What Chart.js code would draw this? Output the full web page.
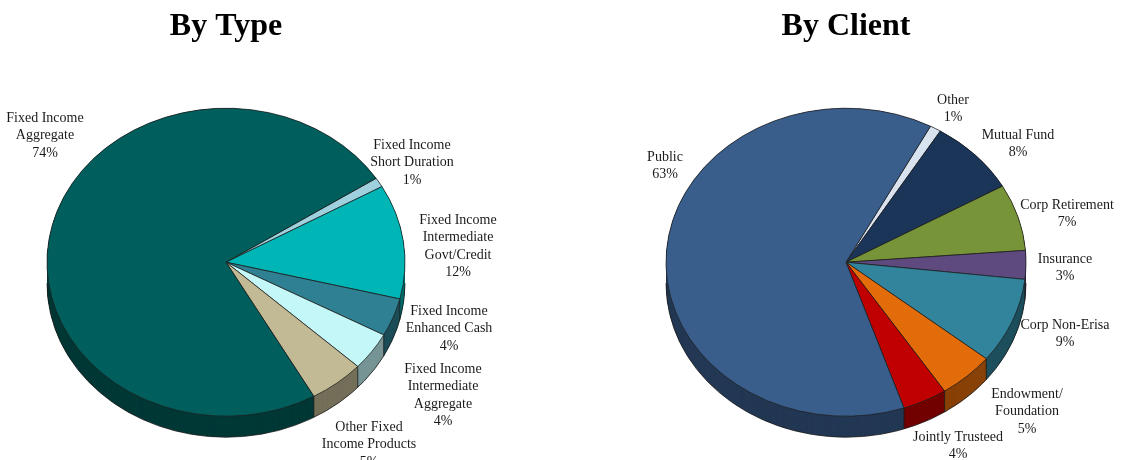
<!DOCTYPE html>
<html><head><meta charset="utf-8">
<script src="https://cdn.jsdelivr.net/npm/chart.js@4.4.1/dist/chart.umd.min.js"></script>
<style>
html,body{margin:0;padding:0;background:#fff;overflow:hidden;width:1123px;height:460px;}
.box{position:absolute;top:0;height:500px;}
#c1box{left:0;width:560px;}
#c2box{left:560px;width:563px;}
canvas{display:block;}
</style></head><body>
<div class="box" id="c1box"><canvas id="c1"></canvas></div>
<div class="box" id="c2box"><canvas id="c2"></canvas></div>
<script>
// ---- data ----
const typeCategories = [["Fixed Income","Short Duration"],["Fixed Income","Intermediate","Govt/Credit"],["Fixed Income","Enhanced Cash"],["Fixed Income","Intermediate","Aggregate"],["Other Fixed","Income Products"],["Fixed Income","Aggregate"]];
const typeValues = [1, 12, 4, 4, 5, 74];
const typeColors = ['#9fd0dd','#00b5b5','#2e8092','#c4f7f7','#c2b995','#005f5c'];

const clientCategories = [["Other"],["Mutual Fund"],["Corp Retirement"],["Insurance"],["Corp Non-Erisa"],["Endowment/","Foundation"],["Jointly Trusteed"],["Public"]];
const clientValues = [1, 8, 7, 3, 9, 5, 4, 63];
const clientColors = ['#d9e3ef','#1b3559','#789438','#5e4a7e','#31849b','#e36c0a','#c00000','#3a5e8c'];

// ---- label layout (page coordinates of first line) ----
const typeLabelPos = [[412,145],[458,220],[449,311],[443,369],[369,427],[45,118]];
const clientLabelPos = [[953,100],[1018,135],[1067,205],[1065,259],[1065,325],[1027,394],[958,437],[665,157]];

function shade(hex, f){
  const n=parseInt(hex.slice(1),16);
  const r=(n>>16)&255,g=(n>>8)&255,b=n&255;
  return 'rgb('+Math.round(r*f)+','+Math.round(g*f)+','+Math.round(b*f)+')';
}

const pie3d = {
  id:'pie3d',
  beforeDatasetsDraw(chart, args, o){
    const ctx=chart.ctx, arcs=chart.getDatasetMeta(0).data;
    const cx=arcs[0].x, cy=arcs[0].y, r=arcs[0].outerRadius, sy=o.squash;
    const colors=chart.data.datasets[0].backgroundColor;
    ctx.save();
    ctx.translate(cx,cy); ctx.scale(1,sy); ctx.translate(-cx,-cy);
    for(let d=o.depth; d>=0; d-=0.5){
      arcs.forEach((a,i)=>{
        ctx.beginPath();
        ctx.moveTo(cx, cy + d/sy);
        ctx.arc(cx, cy + d/sy, r, a.startAngle, a.endAngle);
        ctx.closePath();
        ctx.fillStyle=shade(colors[i], o.dark);
        ctx.fill();
      });
    }
    ctx.restore();
    ctx.save();
    ctx.strokeStyle=o.edge; ctx.lineWidth=0.8;
    ctx.beginPath();
    ctx.ellipse(cx, cy+o.depth, r, r*sy, 0, 0, Math.PI);
    ctx.stroke();
    arcs.forEach(a=>{
      const ang=a.startAngle, s=Math.sin(ang);
      if(s>0.02){
        const x=cx+r*Math.cos(ang), y=cy+r*sy*s;
        ctx.beginPath(); ctx.moveTo(x,y); ctx.lineTo(x,y+o.depth); ctx.stroke();
      }
    });
    ctx.restore();
    ctx.save();
    ctx.translate(cx,cy); ctx.scale(1,sy); ctx.translate(-cx,-cy);
  },
  afterDatasetsDraw(chart){ chart.ctx.restore(); }
};

const sliceLabels = {
  id:'sliceLabels',
  afterDraw(chart, args, o){
    const ctx=chart.ctx, ds=chart.data.datasets[0];
    ctx.save();
    ctx.font=o.font; ctx.fillStyle=o.color; ctx.textAlign='center'; ctx.textBaseline='middle';
    chart.data.labels.forEach((lines,i)=>{
      const p=o.positions[i];
      const all=lines.concat([ds.data[i]+'%']);
      all.forEach((t,k)=>ctx.fillText(t, p[0]-o.offsetX, p[1]+k*o.lineStep));
    });
    ctx.restore();
  }
};

function makePie(id, title, labels, values, colors, rotation, radius, padding, squash, labelPos, offsetX){
  return new Chart(document.getElementById(id), {
    type:'pie',
    data:{ labels:labels, datasets:[{ data:values, backgroundColor:colors, borderColor:'#1e1e1e', borderWidth:0.8 }] },
    options:{
      responsive:true, maintainAspectRatio:false, animation:false,
      rotation:rotation, radius:radius,
      layout:{ padding:padding },
      events:[],
      plugins:{
        legend:{display:false}, tooltip:{enabled:false},
        title:{ display:true, text:title, color:'#000', padding:{top:8,bottom:0},
                font:{ family:'Liberation Serif', size:32, weight:'bold', lineHeight:1.2 } },
        pie3d:{ squash:squash, depth:21, dark:0.6, edge:'#1a1a1a' },
        sliceLabels:{ positions:labelPos, offsetX:offsetX, font:'14px "Liberation Serif"', color:'#1a1a1a', lineStep:17.5 }
      }
    },
    plugins:[pie3d, sliceLabels]
  });
}

makePie('c1','By Type', typeCategories, typeValues, typeColors, 57, 179, {left:0,right:108,top:0,bottom:22}, 154/179, typeLabelPos, 0);
makePie('c2','By Client', clientCategories, clientValues, clientColors, 28, 180, {left:20,right:11,top:0,bottom:22}, 154/180, clientLabelPos, 560);
</script>
</body></html>
